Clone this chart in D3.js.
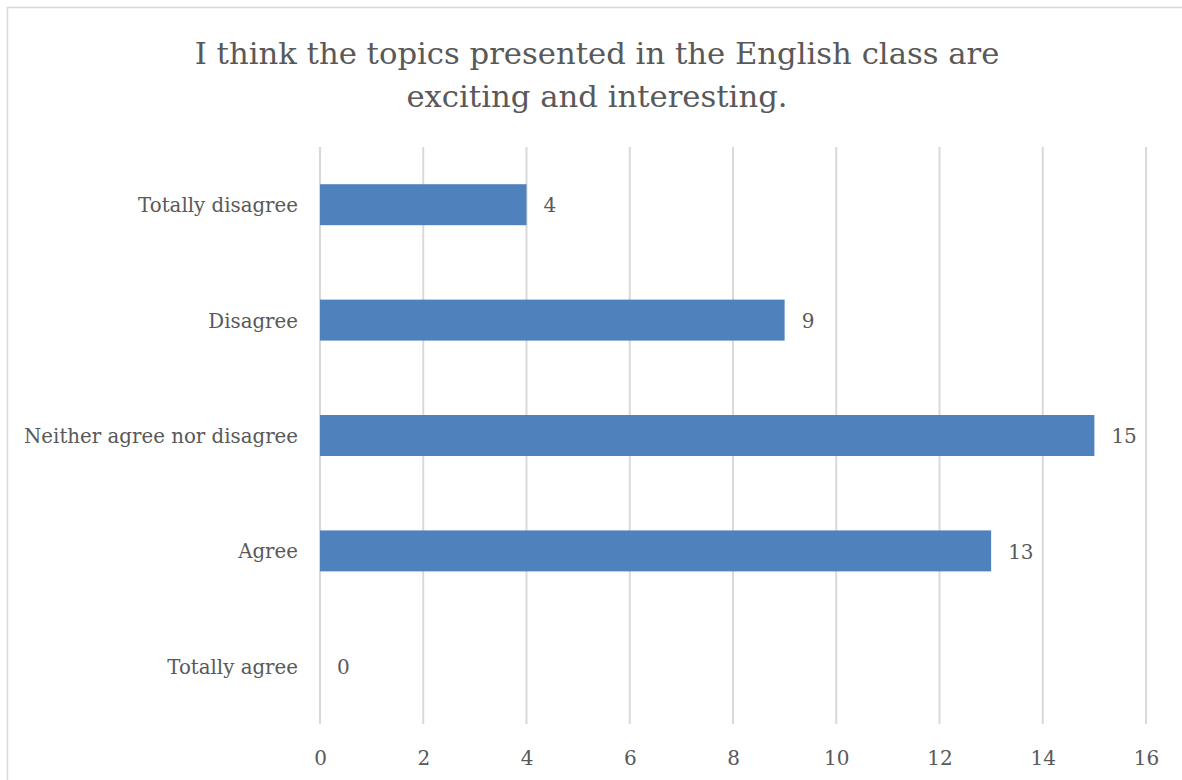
<!DOCTYPE html>
<html>
<head>
<meta charset="utf-8">
<script src="https://cdn.jsdelivr.net/npm/d3@7"></script>
<style>
  html, body { margin: 0; padding: 0; background: #ffffff; }
  svg { display: block; }
  text { font-family: "DejaVu Serif", "Liberation Serif", serif; fill: #595959; }
</style>
</head>
<body>
<svg id="chart" width="1182" height="780"></svg>
<script>
// Survey responses
const categories = ["Totally disagree", "Disagree", "Neither agree nor disagree", "Agree", "Totally agree"];
const counts = [4, 9, 15, 13, 0];
const xTicks = [0, 2, 4, 6, 8, 10, 12, 14, 16];
const titleLines = ["I think the topics presented in the English class are", "exciting and interesting."];

const svg = d3.select("#chart");
const W = 1182, H = 780;
const FONT = '"DejaVu Serif", "Liberation Serif", serif';

// outer frame
svg.append("rect")
  .attr("x", 7.5).attr("y", 7.5)
  .attr("width", W).attr("height", H)
  .attr("fill", "#fff").attr("stroke", "#d9d9d9").attr("stroke-width", 1.5);

const plot = { left: 320, right: 1146, top: 147, bottom: 724 };

const x = d3.scaleLinear().domain([0, 16]).range([plot.left, plot.right]);
const y = d3.scaleBand().domain(categories).range([plot.top, plot.bottom])
  .paddingInner(0.645).paddingOuter(0.3225);

// vertical gridlines
svg.append("g").selectAll("line").data(xTicks).join("line")
  .attr("x1", d => x(d)).attr("x2", d => x(d))
  .attr("y1", plot.top).attr("y2", plot.bottom)
  .attr("stroke", "#d9d9d9").attr("stroke-width", 2);

// bars
svg.append("g").selectAll("rect").data(categories).join("rect")
  .attr("x", x(0))
  .attr("y", d => y(d))
  .attr("width", (d, i) => x(counts[i]) - x(0))
  .attr("height", y.bandwidth())
  .attr("fill", "#4f81bd");

// value labels
svg.append("g").selectAll("text").data(categories).join("text")
  .attr("x", (d, i) => x(counts[i]) + 17)
  .attr("y", d => y(d) + y.bandwidth() / 2)
  .attr("dy", "0.38em")
  .attr("font-size", 20)
  .text((d, i) => counts[i]);

// category axis
const yAxis = d3.axisLeft(y).tickSize(0).tickPadding(22);
const gy = svg.append("g").attr("transform", `translate(${plot.left},0)`).call(yAxis);
gy.select(".domain").remove();
gy.selectAll("text").attr("font-size", 19.8).attr("fill", "#595959").style("font-family", FONT)
  .attr("dy", "0.38em");

// value axis
const xAxis = d3.axisBottom(x).tickValues(xTicks).tickSize(0).tickPadding(27);
const gx = svg.append("g").attr("transform", `translate(0,${plot.bottom})`).call(xAxis);
gx.select(".domain").remove();
gx.selectAll("text").attr("font-size", 20).attr("fill", "#595959").style("font-family", FONT);

// title
svg.append("g").selectAll("text").data(titleLines).join("text")
  .attr("x", 597)
  .attr("y", (d, i) => 64 + i * 43)
  .attr("text-anchor", "middle")
  .attr("font-size", 30.7)
  .text(d => d);
</script>
</body>
</html>
